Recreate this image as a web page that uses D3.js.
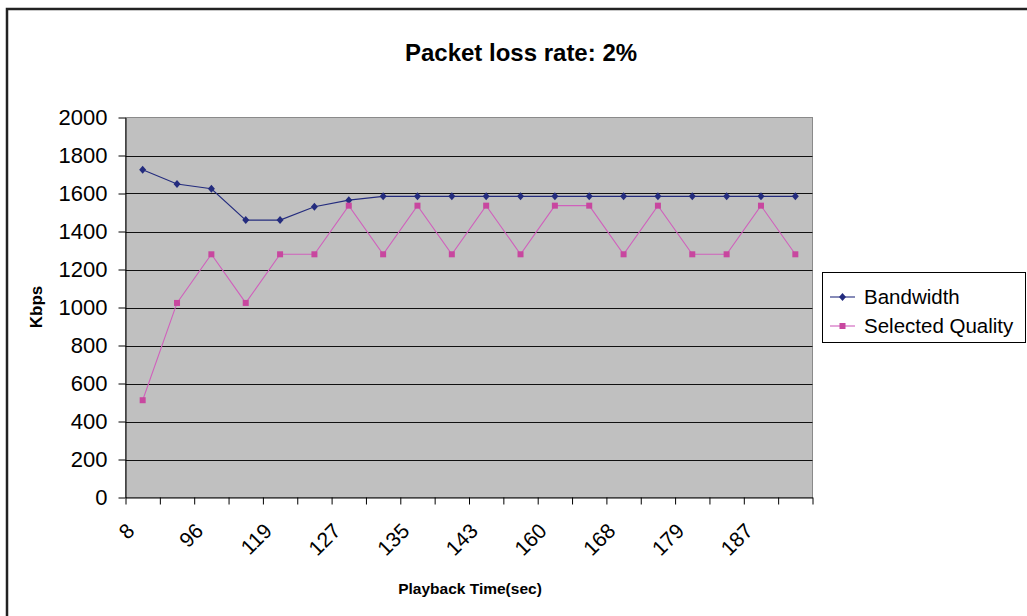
<!DOCTYPE html>
<html><head><meta charset="utf-8">
<script src="https://cdn.jsdelivr.net/npm/d3@7"></script>
<style>
html,body{margin:0;padding:0;background:#fff;}
svg{display:block;font-family:Arial,"Liberation Sans",sans-serif;}
</style></head>
<body>
<svg id="chart" width="1027" height="616"></svg>
<script>
// ---- data ----
const categoryIndex = d3.range(20);
const tickLabels = ["8","96","119","127","135","143","160","168","179","187"]; // shown on every other category
const bandwidth = [1725,1650,1625,1460,1460,1530,1565,1585,1585,1585,1585,1585,1585,1585,1585,1585,1585,1585,1585,1585];
const quality = [512,1024,1280,1024,1280,1280,1536,1280,1536,1280,1536,1280,1536,1536,1280,1536,1280,1280,1536,1280];
const yTicks = d3.range(0, 2001, 200);
const seriesNames = ["Bandwidth","Selected Quality"];

const svg = d3.select("#chart");
const L = 125.5, R = 812.5, T = 117.5, B = 497.5;

svg.append("rect").attr("width",1027).attr("height",616).attr("fill","#fff");
// outer frame
svg.append("rect").attr("x",7).attr("y",9).attr("width",1040).attr("height",640)
  .attr("fill","none").attr("stroke","#222").attr("stroke-width",2.5);

const x = d3.scaleBand().domain(categoryIndex).range([L,R]);
const xl = d3.scaleLinear().domain([0,20]).range([L,R]);
const y = d3.scaleLinear().domain([0,2000]).range([B,T]);

// plot area
svg.append("rect").attr("x",L).attr("y",T).attr("width",R-L).attr("height",B-T)
  .attr("fill","#C0C0C0").attr("stroke","#8a8a8a").attr("stroke-width",1);

// gridlines
svg.append("g").selectAll("line").data(yTicks.filter(d=>d>0 && d<2000)).join("line")
  .attr("x1",L).attr("x2",R).attr("y1",d=>Math.round(y(d))+0.5).attr("y2",d=>Math.round(y(d))+0.5)
  .attr("stroke","#111").attr("stroke-width",1);

// y axis
const ya = svg.append("g").attr("transform",`translate(${L},0)`)
  .call(d3.axisLeft(y).tickValues(yTicks).tickFormat(d3.format("d")).tickSize(7).tickPadding(11).tickSizeOuter(0));
ya.select(".domain").attr("stroke","#000");
ya.selectAll(".tick line").attr("stroke","#000");
ya.selectAll(".tick text").attr("font-size","22px").attr("fill","#000")
  .attr("font-family","Arial, 'Liberation Sans', sans-serif");

// x axis ticks
const xa = svg.append("g").attr("transform",`translate(0,${B})`)
  .call(d3.axisBottom(xl).tickValues(d3.range(21)).tickSize(7).tickFormat("").tickSizeOuter(0));
xa.select(".domain").attr("stroke","#000");
xa.selectAll(".tick line").attr("stroke","#000");

// x labels
svg.append("g").selectAll("text").data(tickLabels).join("text")
  .attr("transform",(d,i)=>`translate(${x(i*2)+x.bandwidth()/2-12},527) rotate(-45)`)
  .attr("text-anchor","end").attr("dy","0.35em")
  .attr("font-size","21px").attr("fill","#000").text(d=>d);

// lines
const line = d3.line().x((d,i)=>x(i)+x.bandwidth()/2).y(d=>y(d));
svg.append("path").datum(quality).attr("d",line).attr("fill","none")
  .attr("stroke","#D060BC").attr("stroke-width",1.1);
svg.append("path").datum(bandwidth).attr("d",line).attr("fill","none")
  .attr("stroke","#242C7E").attr("stroke-width",1.1);

const diamond = "M0,-4L3.5,0L0,4L-3.5,0Z";
svg.append("g").selectAll("path").data(bandwidth).join("path")
  .attr("transform",(d,i)=>`translate(${x(i)+x.bandwidth()/2},${y(d)})`)
  .attr("d",diamond).attr("fill","#242C7E");
svg.append("g").selectAll("rect").data(quality).join("rect")
  .attr("x",(d,i)=>x(i)+x.bandwidth()/2-3).attr("y",d=>y(d)-3)
  .attr("width",6).attr("height",6).attr("fill","#C8479F");

// title
svg.append("text").attr("x",521).attr("y",61).attr("text-anchor","middle")
  .attr("font-size","24px").attr("font-weight","bold").text("Packet loss rate: 2%");
// axis titles
svg.append("text").attr("x",470).attr("y",594).attr("text-anchor","middle")
  .attr("font-size","15.5px").attr("font-weight","bold").text("Playback Time(sec)");
svg.append("text").attr("transform","translate(42,307) rotate(-90)").attr("text-anchor","middle")
  .attr("font-size","17px").attr("font-weight","bold").text("Kbps");

// legend
const lg = svg.append("g");
lg.append("rect").attr("x",822.5).attr("y",272.5).attr("width",203).attr("height",70)
  .attr("fill","#fff").attr("stroke","#000").attr("stroke-width",1);
const ly = [297, 326];
const lcol = ["#242C7E","#D060BC"];
seriesNames.forEach((n,i)=>{
  lg.append("line").attr("x1",830).attr("x2",855).attr("y1",ly[i]).attr("y2",ly[i])
    .attr("stroke",lcol[i]).attr("stroke-width",1.1);
  if(i===0) lg.append("path").attr("transform",`translate(842.5,${ly[i]})`).attr("d",diamond).attr("fill","#242C7E");
  else lg.append("rect").attr("x",839.5).attr("y",ly[i]-3).attr("width",6).attr("height",6).attr("fill","#C8479F");
  lg.append("text").attr("x",864).attr("y",ly[i]).attr("dy","0.35em")
    .attr("font-size","20.5px").attr("fill","#000").text(n);
});
</script>
</body></html>
